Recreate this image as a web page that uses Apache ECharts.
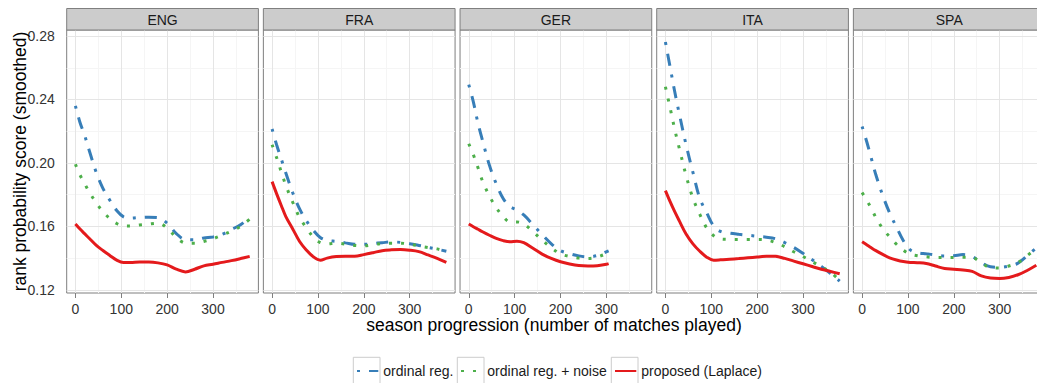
<!DOCTYPE html>
<html>
<head>
<meta charset="utf-8">
<script src="https://cdn.jsdelivr.net/npm/echarts@6.0.0/dist/echarts.min.js"></script>
<style>
html,body{margin:0;padding:0;background:#fff;}
#chart{width:1037px;height:383px;}
</style>
</head>
<body>
<div id="chart"></div>
<script>
// ---------- data ----------
const panels = ['ENG', 'FRA', 'GER', 'ITA', 'SPA'];
const seriesNames = ['ordinal reg.', 'ordinal reg. + noise', 'proposed (Laplace)'];
const yTicks = [0.12, 0.16, 0.20, 0.24, 0.28];
const yMinor = [0.14, 0.18, 0.22, 0.26];
const xTicks = [0, 100, 200, 300];
const xMinor = [50, 150, 250, 350];

const xFull = [0, 10, 20, 30, 45, 60, 75, 90, 105, 120, 140, 160, 180, 200, 220, 240, 260, 280, 300, 320, 340, 360, 380];
const xGER  = [0, 10, 20, 30, 45, 60, 75, 90, 105, 120, 140, 160, 180, 200, 220, 240, 260, 280, 300, 305];

const engOrdinal = [0.236, 0.2255, 0.2175, 0.208, 0.1944, 0.184, 0.1765, 0.170, 0.166, 0.1652, 0.1656, 0.1658, 0.1656, 0.162, 0.1555, 0.1516, 0.1515, 0.1527, 0.1533, 0.155, 0.158, 0.161, 0.166];
const engNoise   = [0.1992, 0.1924, 0.187, 0.1818, 0.175, 0.1692, 0.165, 0.1618, 0.1603, 0.1603, 0.1609, 0.1615, 0.162, 0.159, 0.153, 0.1495, 0.1493, 0.1505, 0.1522, 0.1545, 0.157, 0.16, 0.1645];
const engLaplace = [0.1615, 0.1583, 0.1554, 0.1525, 0.1482, 0.1448, 0.1417, 0.1387, 0.1372, 0.1372, 0.1375, 0.1375, 0.137, 0.1357, 0.133, 0.1313, 0.133, 0.1351, 0.1361, 0.1373, 0.1384, 0.1397, 0.1411];

const fraOrdinal = [0.2214, 0.2113, 0.2025, 0.1936, 0.1812, 0.171, 0.1634, 0.1575, 0.153, 0.1512, 0.1505, 0.1496, 0.1487, 0.1487, 0.1492, 0.1497, 0.1502, 0.1499, 0.1491, 0.148, 0.1468, 0.1456, 0.1443];
const fraNoise   = [0.2115, 0.2032, 0.1944, 0.1858, 0.1752, 0.1655, 0.159, 0.1532, 0.1498, 0.149, 0.1494, 0.1488, 0.148, 0.1477, 0.1485, 0.1492, 0.1494, 0.1494, 0.1488, 0.1477, 0.1467, 0.1458, 0.1442];
const fraLaplace = [0.1882, 0.1805, 0.1732, 0.1662, 0.1584, 0.1505, 0.145, 0.1408, 0.1387, 0.14, 0.141, 0.1412, 0.1412, 0.1422, 0.1434, 0.1447, 0.1452, 0.1454, 0.145, 0.1441, 0.142, 0.1398, 0.1373];

const gerOrdinal = [0.2494, 0.2385, 0.2252, 0.2142, 0.1986, 0.1868, 0.1776, 0.1725, 0.1703, 0.1672, 0.1611, 0.1548, 0.149, 0.1447, 0.1428, 0.1414, 0.1408, 0.1416, 0.1439, 0.1445];
const gerNoise   = [0.2121, 0.2052, 0.1971, 0.1886, 0.1792, 0.1718, 0.1662, 0.1628, 0.1628, 0.1615, 0.1567, 0.1513, 0.1465, 0.1427, 0.141, 0.14, 0.1398, 0.1407, 0.1428, 0.1435];
const gerLaplace = [0.1615, 0.1598, 0.1582, 0.1566, 0.1544, 0.1524, 0.151, 0.1503, 0.1507, 0.1497, 0.1462, 0.1425, 0.1398, 0.1377, 0.1363, 0.1353, 0.135, 0.1352, 0.1361, 0.1365];

const itaOrdinal = [0.2762, 0.2608, 0.2453, 0.2313, 0.2115, 0.194, 0.1776, 0.1686, 0.1603, 0.1568, 0.1557, 0.155, 0.1544, 0.1538, 0.1532, 0.1522, 0.1498, 0.1467, 0.143, 0.139, 0.1348, 0.1303, 0.1255];
const itaNoise   = [0.248, 0.235, 0.2215, 0.2095, 0.1921, 0.1777, 0.1676, 0.159, 0.1542, 0.152, 0.1518, 0.1518, 0.1518, 0.1518, 0.1515, 0.1498, 0.1472, 0.144, 0.141, 0.1378, 0.1345, 0.131, 0.126];
const itaLaplace = [0.1825, 0.1757, 0.1694, 0.1636, 0.1552, 0.149, 0.1443, 0.1406, 0.1387, 0.1389, 0.1393, 0.1397, 0.1402, 0.1407, 0.1412, 0.1411, 0.1398, 0.1381, 0.1364, 0.1347, 0.133, 0.1316, 0.1301];

const spaOrdinal = [0.223, 0.2135, 0.203, 0.1925, 0.1795, 0.1685, 0.1595, 0.151, 0.1452, 0.1435, 0.1427, 0.142, 0.1413, 0.1415, 0.1422, 0.141, 0.1372, 0.1345, 0.1342, 0.135, 0.1368, 0.1415, 0.1465];
const spaNoise   = [0.1813, 0.1765, 0.1714, 0.1656, 0.1586, 0.1534, 0.1487, 0.1449, 0.1425, 0.1415, 0.1408, 0.1404, 0.1404, 0.1404, 0.1405, 0.1404, 0.137, 0.134, 0.1338, 0.135, 0.1372, 0.1415, 0.1463];
const spaLaplace = [0.1503, 0.1484, 0.1465, 0.1447, 0.1423, 0.1402, 0.1388, 0.1378, 0.1373, 0.1371, 0.1366, 0.135, 0.1335, 0.133, 0.1325, 0.1316, 0.1288, 0.1274, 0.1271, 0.1278, 0.1295, 0.1322, 0.1355];

const panelX = [xFull, xFull, xGER, xFull, xFull];
const panelData = [
  [engOrdinal, engNoise, engLaplace],
  [fraOrdinal, fraNoise, fraLaplace],
  [gerOrdinal, gerNoise, gerLaplace],
  [itaOrdinal, itaNoise, itaLaplace],
  [spaOrdinal, spaNoise, spaLaplace]
];

// ---------- styling / layout ----------
const FONT = 'Liberation Sans';
const colors = ['#377EB8', '#4DAF4A', '#E41A1C'];
const LW = 3;
const dashes = [[LW, 3 * LW, 4 * LW, 3 * LW], [LW, 3 * LW], 'solid'];
const P_LEFT0 = 66.7, P_STEP = 196.67, P_W = 191.7, P_TOP = 30, P_H = 263;
const X_MIN = -19, X_MAX = 399, Y_MIN = 0.118, Y_MAX = 0.2838;

const grids = [], xAxes = [], yAxes = [], series = [], graphics = [];

panels.forEach((p, i) => {
  const left = P_LEFT0 + P_STEP * i;
  grids.push({
    left: left, top: P_TOP, width: P_W, height: P_H,
    show: true, borderColor: '#7F7F7F', borderWidth: 1, backgroundColor: '#FFFFFF',
    outerBoundsMode: 'none'
  });
  xAxes.push({
    type: 'value', gridIndex: i, min: X_MIN, max: X_MAX,
    axisLine: { show: false },
    splitLine: { show: false },
    axisTick: { show: true, length: 5, lineStyle: { color: '#7F7F7F', width: 1 }, customValues: xTicks },
    axisLabel: { show: true, margin: 8.5, fontSize: 14, lineHeight: 14, color: '#333333', fontFamily: FONT, customValues: xTicks }
  });
  yAxes.push({
    type: 'value', gridIndex: i, min: Y_MIN, max: Y_MAX,
    axisLine: { show: false },
    splitLine: { show: false },
    axisTick: { show: i === 0, length: 5, lineStyle: { color: '#7F7F7F', width: 1 }, customValues: yTicks },
    axisLabel: { show: i === 0, margin: 12, fontSize: 14, color: '#333333', fontFamily: FONT,
                 customValues: yTicks, formatter: v => v.toFixed(2) }
  });
  // grid lines drawn through the library's scales (markLines) behind the data
  const gl = [];
  yMinor.forEach(v => gl.push({ yAxis: v, lineStyle: { color: '#F5F5F5', width: 1, type: 'solid' } }));
  xMinor.forEach(v => gl.push({ xAxis: v, lineStyle: { color: '#F5F5F5', width: 1, type: 'solid' } }));
  yTicks.forEach(v => gl.push({ yAxis: v, lineStyle: { color: '#E5E5E5', width: 1, type: 'solid' } }));
  xTicks.forEach(v => gl.push({ xAxis: v, lineStyle: { color: '#E5E5E5', width: 1, type: 'solid' } }));
  series.push({
    type: 'line', xAxisIndex: i, yAxisIndex: i, data: [], silent: true, z: 1,
    markLine: { silent: true, z: 1, symbol: ['none', 'none'], label: { show: false },
                emphasis: { disabled: true }, animation: false, data: gl }
  });
  seriesNames.forEach((name, s) => {
    const xs = panelX[i];
    const vals = panelData[i][s];
    series.push({
      type: 'line', name: name, xAxisIndex: i, yAxisIndex: i,
      data: xs.map((x, k) => [x, vals[k]]),
      smooth: 0.35, symbol: 'none', showSymbol: false, silent: true, z: 2 + s,
      lineStyle: { color: colors[s], width: LW, type: dashes[s], cap: 'butt' },
      itemStyle: { color: colors[s] },
      emphasis: { disabled: true }, animation: false
    });
  });
  // facet strip
  graphics.push({
    type: 'rect', z: 10,
    shape: { x: left, y: 8.5, width: P_W, height: 21.5 },
    style: { fill: '#CCCCCC', stroke: '#7F7F7F', lineWidth: 1 }
  });
  graphics.push({
    type: 'text', z: 11, x: left + P_W / 2, y: 19.5,
    style: { text: p, fill: '#1A1A1A', fontSize: 14, fontFamily: FONT, align: 'center', verticalAlign: 'middle' }
  });
});

// axis titles
graphics.push({
  type: 'text', z: 11, x: 554, y: 325,
  style: { text: 'season progression (number of matches played)', fill: '#000000', fontSize: 17.5, lineHeight: 16, fontFamily: FONT, align: 'center', verticalAlign: 'middle' }
});
graphics.push({
  type: 'text', z: 11, x: 19.5, y: 161.5, rotation: Math.PI / 2,
  style: { text: 'rank probability score (smoothed)', fill: '#000000', fontSize: 17.5, lineHeight: 16, fontFamily: FONT, align: 'center', verticalAlign: 'middle' }
});

// legend key boxes
const legendLeft = [356, 460, 614];
legendLeft.forEach(lx => {
  graphics.push({
    type: 'rect', z: 0,
    shape: { x: lx - 2.7, y: 357.3, width: 26.7, height: 26.7 },
    style: { fill: '#FFFFFF', stroke: '#CCCCCC', lineWidth: 1 }
  });
});

const legends = seriesNames.map((n, i) => ({
  data: [n], left: legendLeft[i], top: 364, padding: 0, itemGap: 0,
  itemWidth: 21.3, itemHeight: 14, selectedMode: false,
  itemStyle: { opacity: 0 },
  textStyle: { fontSize: 14, color: '#1A1A1A', fontFamily: FONT }
}));

const chart = echarts.init(document.getElementById('chart'), null, { renderer: 'svg' });
chart.setOption({
  animation: false,
  backgroundColor: '#FFFFFF',
  grid: grids,
  xAxis: xAxes,
  yAxis: yAxes,
  legend: legends,
  series: series,
  graphic: { elements: graphics }
});
</script>
</body>
</html>
